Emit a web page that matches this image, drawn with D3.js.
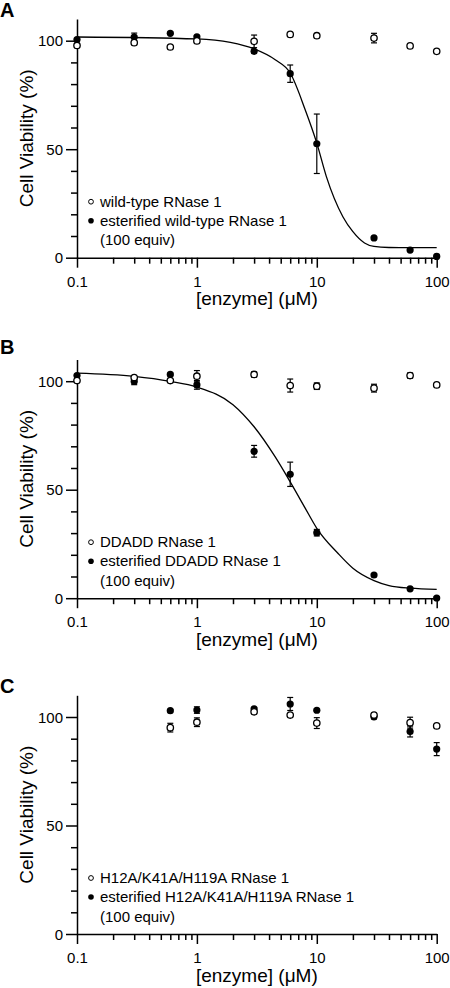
<!DOCTYPE html>
<html>
<head>
<meta charset="utf-8">
<script src="https://cdn.jsdelivr.net/npm/d3@7"></script>
<style>
  html, body { margin: 0; padding: 0; background: #fff; }
  svg { display: block; }
  text { font-family: Arial, "Liberation Sans", sans-serif; fill: #000; }
</style>
</head>
<body>
<script>
// ---------- DATA ----------
const concAB = [0.1, 0.3, 0.6, 1, 3, 6, 10, 30, 60, 100];
const concC  = [0.6, 1, 3, 6, 10, 30, 60, 100];

// Panel A
const aWild     = [97.8, 99.1, 97.1, 99.9, 99.7, 102.9, 102.3, 101.2, 97.6, 95.1];
const aWildErr  = [0.5, 0.5, 0.5, 0.5, 2.9, 0.5, 0.5, 2.2, 0.5, 0.5];
const aEster    = [100.5, 101.7, 103.4, 101.8, 95.1, 84.8, 52.5, 9.1, 3.5, 0.6];
const aEsterErr = [0.5, 1.8, 0.5, 0.5, 0.8, 4.0, 13.7, 0.5, 0.5, 0.5];
const aFitX     = [0.1, 1, 1.9, 3, 4.5, 6, 8, 10, 12, 16.5, 20, 25, 30, 40, 60, 100];
const aFitY     = [101.7, 100.8, 99.2, 96.2, 91.2, 85.1, 68.2, 52.8, 37.5, 18.9, 12.0, 6.8, 5.2, 4.7, 4.6, 4.6];

// Panel B
const bWild     = [100.3, 101.7, 100.3, 102.3, 103.1, 98.0, 97.7, 96.8, 102.6, 98.3];
const bWildErr  = [0.5, 0.5, 0.5, 2.6, 1.2, 3.0, 1.5, 1.8, 1.2, 0.5];
const bEster    = [102.6, 99.9, 103.1, 98.3, 67.7, 57.1, 30.2, 10.7, 4.3, 0.1];
const bEsterErr = [0.5, 1.5, 0.5, 2.0, 2.7, 5.6, 1.5, 0.5, 0.5, 0.5];
const bFitX     = [0.1, 0.3, 0.6, 1, 2, 3, 4.5, 6, 8, 10, 15, 20, 30, 40, 60, 100];
const bFitY     = [103.7, 102.2, 99.9, 97.3, 89.2, 79.0, 65.1, 53.6, 41.5, 32.2, 20.7, 13.8, 8.1, 5.8, 4.6, 4.1];

// Panel C
const cWild     = [95.1, 97.6, 102.4, 100.9, 97.2, 100.9, 97.4, 95.9];
const cWildErr  = [2.0, 2.0, 0.5, 0.5, 2.5, 0.5, 2.5, 0.5];
const cEster    = [102.9, 103.2, 103.8, 106.0, 103.1, 100.1, 93.3, 85.2];
const cEsterErr = [0.5, 1.5, 0.5, 3.0, 0.5, 1.0, 2.5, 3.0];

// Axes / labels
const xMajorTicks = [0.1, 1, 10, 100];
const xMajorLabels = ["0.1", "1", "10", "100"];
const yMajorTicks = [0, 50, 100];
const yMinorTicks = [10, 20, 30, 40, 60, 70, 80, 90];
const yDomain = [0, 110];
const xDomain = [0.1, 100];
const xTitle = "[enzyme] (μM)";
const yTitle = "Cell Viability (%)";
const panelLetters = ["A", "B", "C"];
const legendOpen = ["wild-type RNase 1", "DDADD RNase 1", "H12A/K41A/H119A RNase 1"];
const legendFilled = ["esterified wild-type RNase 1", "esterified DDADD RNase 1", "esterified H12A/K41A/H119A RNase 1"];
const legendNote = "(100 equiv)";

// ---------- LAYOUT ----------
const W = 450, H = 988;
const plotLeft = 77, plotRight = 436.7;
const plotH = 238.7;
const panelTops = [19, 359.5, 695.3];
const letterBaselines = [17, 354, 693];

const svg = d3.select("body").append("svg").attr("width", W).attr("height", H);

const x = d3.scaleLog().domain(xDomain).range([plotLeft, plotRight]);

const xMinor = [];
[0.1, 1, 10].forEach(d => { for (let k = 2; k <= 9; k++) xMinor.push(+(d * k).toPrecision(3)); });

const panels = [
  { wild: aWild, wildErr: aWildErr, ester: aEster, esterErr: aEsterErr, conc: concAB, fitX: aFitX, fitY: aFitY },
  { wild: bWild, wildErr: bWildErr, ester: bEster, esterErr: bEsterErr, conc: concAB, fitX: bFitX, fitY: bFitY },
  { wild: cWild, wildErr: cWildErr, ester: cEster, esterErr: cEsterErr, conc: concC, fitX: null, fitY: null }
];

const axisW = 1.5;

panels.forEach((p, i) => {
  const top = panelTops[i];
  const y = d3.scaleLinear().domain(yDomain).range([top + plotH, top]);
  const g = svg.append("g");
  const y0 = y(0);

  // panel letter
  svg.append("text").attr("x", 0).attr("y", letterBaselines[i])
    .attr("font-size", 20).attr("font-weight", "bold").text(panelLetters[i]);

  // X axis: minor ticks
  const gxMinor = g.append("g").attr("transform", `translate(0,${y0})`)
    .call(d3.axisBottom(x).tickValues(xMinor).tickSize(6).tickFormat(""));
  gxMinor.select(".domain").remove();
  // X axis: major ticks
  const gx = g.append("g").attr("transform", `translate(0,${y0})`)
    .call(d3.axisBottom(x).tickValues(xMajorTicks).tickSize(10).tickSizeOuter(0)
      .tickFormat((d, k) => xMajorLabels[k]));
  gx.selectAll("text").attr("font-size", 15).attr("dy", 0).attr("y", 29)
    .style("font-family", "Arial, 'Liberation Sans', sans-serif");
  [gxMinor, gx].forEach(a => {
    a.selectAll("line").attr("stroke", "#000").attr("stroke-width", axisW);
    a.selectAll(".domain").attr("stroke", "#000").attr("stroke-width", axisW);
  });

  // Y axis minor
  const gyMinor = g.append("g").attr("transform", `translate(${plotLeft},0)`)
    .call(d3.axisLeft(y).tickValues(yMinorTicks).tickSize(6).tickFormat(""));
  gyMinor.select(".domain").remove();
  const gy = g.append("g").attr("transform", `translate(${plotLeft},0)`)
    .call(d3.axisLeft(y).tickValues(yMajorTicks).tickSize(11).tickSizeOuter(0).tickFormat(d3.format("d")));
  gy.selectAll("text").attr("font-size", 15).attr("x", -14).attr("dy", "0.35em")
    .style("font-family", "Arial, 'Liberation Sans', sans-serif");
  [gyMinor, gy].forEach(a => {
    a.selectAll("line").attr("stroke", "#000").attr("stroke-width", axisW);
    a.selectAll(".domain").attr("stroke", "#000").attr("stroke-width", axisW);
  });

  // axis titles
  g.append("text").attr("x", (plotLeft + plotRight) / 2).attr("y", y0 + 47.5)
    .attr("text-anchor", "middle").attr("font-size", 19).text(xTitle);
  g.append("text").attr("transform", `translate(33,${top + plotH / 2}) rotate(-90)`)
    .attr("text-anchor", "middle").attr("font-size", 19).text(yTitle);

  // fit curve
  if (p.fitX) {
    const pts = p.fitX.map((v, k) => [v, p.fitY[k]]);
    g.append("path").datum(pts)
      .attr("fill", "none").attr("stroke", "#000").attr("stroke-width", 1.3)
      .attr("d", d3.line().x(d => x(d[0])).y(d => y(d[1])).curve(d3.curveMonotoneX));
  }

  // error bars
  const drawErr = (vals, errs) => {
    vals.forEach((v, k) => {
      const cx = x(p.conc[k]);
      const yt = y(v + errs[k]), yb = y(v - errs[k]);
      g.append("line").attr("x1", cx).attr("x2", cx).attr("y1", yt).attr("y2", yb)
        .attr("stroke", "#000").attr("stroke-width", 1.2);
      [yt, yb].forEach(yy => g.append("line").attr("x1", cx - 3).attr("x2", cx + 3)
        .attr("y1", yy).attr("y2", yy).attr("stroke", "#000").attr("stroke-width", 1.2));
    });
  };
  drawErr(p.ester, p.esterErr);
  drawErr(p.wild, p.wildErr);

  // filled markers
  g.append("g").selectAll("circle").data(p.ester).join("circle")
    .attr("cx", (d, k) => x(p.conc[k])).attr("cy", d => y(d)).attr("r", 3.6)
    .attr("fill", "#000");
  // open markers
  g.append("g").selectAll("circle").data(p.wild).join("circle")
    .attr("cx", (d, k) => x(p.conc[k])).attr("cy", d => y(d)).attr("r", 3.2)
    .attr("fill", "#fff").attr("stroke", "#000").attr("stroke-width", 1.3);

  // legend
  const lx = 91, tx = 100;
  const rows = [y0 - 56, y0 - 37, y0 - 17.5];
  g.append("circle").attr("cx", lx).attr("cy", rows[0]).attr("r", 2.4)
    .attr("fill", "#fff").attr("stroke", "#000").attr("stroke-width", 1);
  g.append("circle").attr("cx", lx).attr("cy", rows[1]).attr("r", 2.8).attr("fill", "#000");
  [legendOpen[i], legendFilled[i], legendNote].forEach((t, k) => {
    g.append("text").attr("x", tx).attr("y", rows[k]).attr("dy", "0.35em")
      .attr("font-size", 15).text(t);
  });
});
</script>
</body>
</html>
